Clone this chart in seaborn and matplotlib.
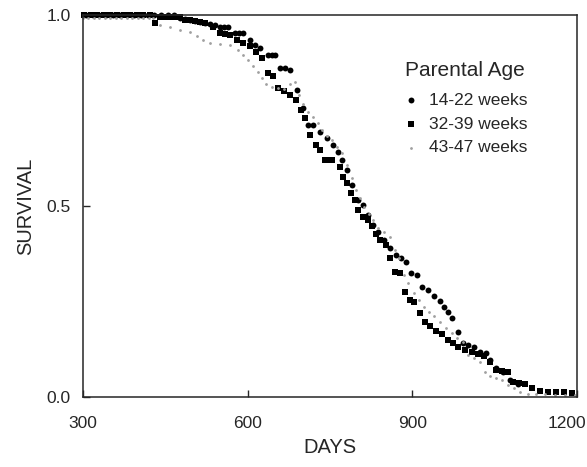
import pandas as pd
import matplotlib
matplotlib.use("Agg")
import matplotlib.pyplot as plt
import matplotlib.transforms as mtransforms
import seaborn as sns

# survival points (days, fraction surviving)
young_days = [305, 318, 330, 342, 355, 368, 380, 392, 405, 418, 430, 442, 455, 466,
              477, 486, 495, 504, 513, 522, 531, 540, 550, 557, 564, 577, 585, 592,
              604, 613, 622, 637, 644, 650, 659, 668, 677, 690, 701, 710, 719, 732,
              745, 756, 765, 772, 781, 790, 801, 810, 819, 828, 837, 848, 859, 870,
              879, 889, 898, 909, 918, 929, 940, 950, 958, 965, 972, 983, 992, 1001,
              1012, 1023, 1034, 1042, 1052, 1065, 1078, 1093]
young_surv = [1.0, 1.0, 1.0, 1.0, 1.0, 1.0, 1.0, 1.0, 1.0, 1.0, 1.0, 1.0, 1.0, 1.0,
              0.992, 0.990, 0.987, 0.985, 0.982, 0.979, 0.976, 0.973, 0.969, 0.969, 0.969, 0.953, 0.953, 0.953,
              0.935, 0.921, 0.914, 0.895, 0.895, 0.895, 0.861, 0.861, 0.856, 0.804, 0.757, 0.712, 0.712, 0.694,
              0.678, 0.660, 0.641, 0.620, 0.594, 0.555, 0.516, 0.503, 0.476, 0.450, 0.432, 0.411, 0.390, 0.372,
              0.364, 0.353, 0.325, 0.319, 0.288, 0.280, 0.264, 0.251, 0.236, 0.223, 0.207, 0.170, 0.141, 0.136,
              0.131, 0.118, 0.115, 0.097, 0.076, 0.065, 0.045, 0.034]

mid_days = [302, 314, 326, 338, 350, 362, 374, 386, 398, 410, 422, 431,
            440, 450, 459, 468, 477, 486, 495, 504, 513, 522, 537, 550, 559, 568,
            581, 592, 604, 615, 626, 637, 646, 655, 666, 677, 688, 697, 704, 714,
            725, 732, 741, 748, 754, 768, 774, 781, 788, 796, 801, 810, 819, 827,
            834, 841, 852, 859, 868, 878, 887, 896, 903, 914, 923, 932, 943, 954,
            965, 974, 983, 996, 1009, 1020, 1031, 1042, 1052, 1063, 1074, 1083,
            1094, 1105, 1118, 1133, 1147, 1162, 1176, 1191]
mid_surv = [1.0, 1.0, 1.0, 1.0, 1.0, 1.0, 1.0, 1.0, 1.0, 1.0, 1.0, 0.979,
            0.995, 0.995, 0.995, 0.995, 0.995, 0.987, 0.986, 0.984, 0.982, 0.979, 0.969, 0.953, 0.950, 0.948,
            0.935, 0.927, 0.919, 0.903, 0.887, 0.848, 0.840, 0.809, 0.801, 0.791, 0.777, 0.751, 0.730, 0.686,
            0.660, 0.647, 0.620, 0.620, 0.620, 0.602, 0.576, 0.560, 0.534, 0.516, 0.490, 0.471, 0.463, 0.448,
            0.427, 0.411, 0.398, 0.364, 0.327, 0.325, 0.275, 0.254, 0.249, 0.220, 0.196, 0.186, 0.173, 0.165,
            0.149, 0.141, 0.131, 0.123, 0.118, 0.113, 0.107, 0.092, 0.071, 0.068, 0.065, 0.039,
            0.037, 0.034, 0.024, 0.016, 0.013, 0.013, 0.013, 0.010]

old_days = [300, 310, 320, 330, 340, 350, 360, 370, 380, 390, 400, 410, 420, 428,
            440, 459, 477, 495, 508, 519, 531, 550, 568, 582, 592, 601, 610, 619,
            626, 633, 644, 655, 666, 677, 686, 694, 701, 710, 719, 728, 735, 745,
            754, 763, 772, 781, 790, 797, 805, 812, 821, 828, 837, 848, 859, 868,
            876, 885, 892, 903, 912, 921, 930, 940, 950, 961, 972, 981, 992, 1001,
            1012, 1023, 1032, 1042, 1052, 1063, 1074, 1085, 1096, 1111, 1125, 1142,
            1160, 1178, 1196]
old_surv = [0.992, 0.992, 0.992, 0.992, 0.992, 0.992, 0.992, 0.992, 0.992, 0.992, 0.992, 0.992, 0.992, 0.992,
            0.974, 0.969, 0.961, 0.955, 0.945, 0.935, 0.927, 0.924, 0.921, 0.908, 0.895, 0.882, 0.866, 0.851,
            0.835, 0.819, 0.812, 0.809, 0.806, 0.819, 0.825, 0.791, 0.767, 0.746, 0.733, 0.717, 0.699, 0.683,
            0.673, 0.654, 0.639, 0.607, 0.573, 0.542, 0.521, 0.497, 0.479, 0.463, 0.442, 0.432, 0.419, 0.385,
            0.364, 0.319, 0.298, 0.272, 0.254, 0.236, 0.223, 0.212, 0.196, 0.181, 0.168, 0.154, 0.144, 0.110,
            0.102, 0.092, 0.065, 0.055, 0.050, 0.045, 0.031, 0.024, 0.013, 0.008, 0.008, 0.008,
            0.005, 0.005, 0.005]

groups = ["14-22 weeks", "32-39 weeks", "43-47 weeks"]

df = pd.concat([
    pd.DataFrame({"days": young_days, "survival": young_surv, "age": groups[0]}),
    pd.DataFrame({"days": mid_days, "survival": mid_surv, "age": groups[1]}),
    pd.DataFrame({"days": old_days, "survival": old_surv, "age": groups[2]}),
])

sns.set_style("ticks")
plt.rcParams["font.family"] = ["Liberation Sans", "DejaVu Sans"]

fig = plt.figure(figsize=(5.87, 4.67), dpi=100)
ax = fig.add_axes([0.1414, 0.150, 0.8416, 0.818])

styles = {
    groups[0]: dict(marker="o", s=18, color="black"),
    groups[1]: dict(marker="s", s=16, color="black"),
    groups[2]: dict(marker="o", s=4, color="#a0a0a0"),
}
for g in groups:
    sns.scatterplot(data=df[df["age"] == g], x="days", y="survival", label=g,
                    linewidth=0, clip_on=False, ax=ax, **styles[g])

ax.set_xlim(300, 1200)
ax.set_ylim(0, 1.0)
ax.set_xticks([300, 600, 900, 1200])
ax.set_yticks([0.0, 0.5, 1.0])
ax.set_yticklabels(["0.0", "0.5", "1.0"])
ax.tick_params(direction="in", length=5, width=1, labelsize=12.5)
ax.tick_params(axis="x", pad=14)
ax.tick_params(axis="y", pad=9)
ax.set_xlabel("DAYS", fontsize=14.5, labelpad=5)
ax.set_ylabel("SURVIVAL", fontsize=14.5, labelpad=8)
for sp in ax.spines.values():
    sp.set_linewidth(1.1)

# the last x label sits a little left so it stays inside the picture
last = ax.get_xticklabels()[-1]
last.set_transform(last.get_transform() +
                   mtransforms.ScaledTranslation(-0.10, 0, fig.dpi_scale_trans))

leg = ax.legend(title="Parental Age", loc="upper left", bbox_to_anchor=(0.615, 0.92),
                frameon=False, fontsize=12.5, title_fontsize=15, handlelength=1.0,
                handletextpad=0.55, labelspacing=0.5, markerscale=1.0)
leg._legend_box.sep = 9

fig.savefig("out.png", dpi=100)
